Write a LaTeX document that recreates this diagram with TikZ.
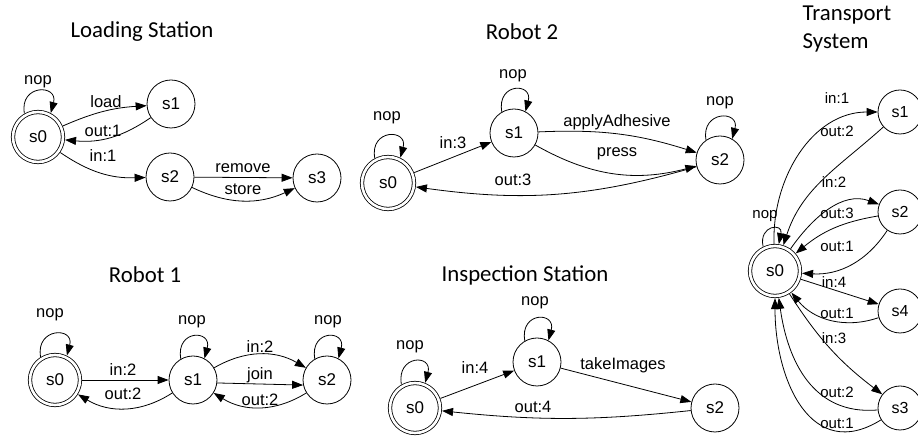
\documentclass[tikz,border=0pt]{standalone}
\usepackage{fontspec}
\setmainfont{Liberation Sans}
\newfontfamily\titlefont{Carlito}
\usetikzlibrary{arrows.meta}

\begin{document}
\begin{tikzpicture}[x=1pt,y=1pt,
  state/.style={circle,draw,line width=0.8pt,minimum size=48pt,inner sep=0pt,
    font=\fontsize{17}{19}\selectfont},
  small/.style={minimum size=44pt,font=\fontsize{16}{18}\selectfont},
  accept/.style={state,double,double distance=2.6pt,minimum size=50pt,outer sep=2.2pt},
  edge/.style={draw,line width=0.8pt,-{Triangle[length=11pt,width=8pt]}},
  selfloop/.style={edge,out=100,in=75,distance=30},
  lbl/.style={inner sep=0pt,font=\fontsize{16.5}{18}\selectfont},
  tlbl/.style={inner sep=0pt,font=\fontsize{15}{17}\selectfont},
  heading/.style={inner sep=0pt,font=\titlefont\fontsize{22.8}{28}\selectfont}]

\useasboundingbox (0,0) rectangle (918,441);
\fill[white] (0,0) rectangle (918,441);

% ---------- Loading Station ----------
\node[heading] (t-load) at (142,409) {Loading Station};
\node[accept] (L0) at (38,304) {s0};
\node[state]  (L1) at (171,337) {s1};
\node[state]  (L2) at (170,264) {s2};
\node[state]  (L3) at (317,263) {s3};
\draw[selfloop] (L0.120) to (L0.62);
\draw[edge] (L0) to[bend left=10] (L1);
\draw[edge] (L1) to[bend left=20] (L0);
\draw[edge] (L0) to[bend right=18] (L2);
\draw[edge] (L2) -- (L3);
\draw[edge] (L2) to[bend right=25] (L3);
\node[lbl] (lL-nop)  at (38,359)  {nop};
\node[lbl] (lL-load) at (106,339) {load};
\node[lbl] (lL-out)  at (103,310) {out:1};
\node[lbl] (lL-in)   at (103,285) {in:1};
\node[lbl] (lL-rem)  at (243,273) {remove};
\node[lbl] (lL-sto)  at (243,252) {store};

% ---------- Robot 2 ----------
\node[heading] (t-r2) at (522,409) {Robot 2};
\node[accept,minimum size=52pt] (R0) at (388,258) {s0};
\node[state]  (R1) at (514,308) {s1};
\node[state]  (R2) at (720,281) {s2};
\draw[selfloop] (R0.118) to (R0.64);
\draw[selfloop] (R1.120) to (R1.62);
\draw[selfloop] (R2.125) to (R2.60);
\draw[edge] (R0) -- (R1);
\draw[edge] (R1) to[bend left=10] (R2);
\draw[edge] (R1) to[bend right=22] (R2);
\draw[edge] (R2) to[bend left=12] (R0);
\node[lbl] (lR-nop0) at (387,323) {nop};
\node[lbl] (lR-nop1) at (513,365) {nop};
\node[lbl] (lR-nop2) at (720,338) {nop};
\node[lbl] (lR-in)   at (453,298) {in:3};
\node[lbl] (lR-app)  at (617,319) {applyAdhesive};
\node[lbl] (lR-pre)  at (617,287) {press};
\node[lbl] (lR-out)  at (513,261) {out:3};

% ---------- Robot 1 ----------
\node[heading] (t-r1) at (145,166) {Robot 1};
\node[accept] (B0) at (55,61) {s0};
\node[state]  (B1) at (193,61) {s1};
\node[state]  (B2) at (327,61) {s2};
\draw[selfloop] (B0.122) to (B0.64);
\draw[selfloop] (B1.120) to (B1.62);
\draw[selfloop] (B2.120) to (B2.62);
\draw[edge] (B0) -- (B1);
\draw[edge] (B1) to[bend left=32] (B0);
\draw[edge] (B1) to[bend left=30] (B2);
\draw[edge] (B1.-7) -- (B2.-168);
\draw[edge] (B2) to[bend left=32] (B1);
\node[lbl] (lB-nop0) at (50,126)  {nop};
\node[lbl] (lB-nop1) at (192,119) {nop};
\node[lbl] (lB-nop2) at (328,119) {nop};
\node[lbl] (lB-in)   at (123,71)  {in:2};
\node[lbl] (lB-out)  at (123,47)  {out:2};
\node[lbl] (lB-in2)  at (260,94)  {in:2};
\node[lbl] (lB-join) at (260,66)  {join};
\node[lbl] (lB-out2) at (260,41)  {out:2};

% ---------- Inspection Station ----------
\node[heading] (t-insp) at (525,166) {Inspection Station};
\node[accept] (I0) at (415,33) {s0};
\node[state]  (I1) at (537,79) {s1};
\node[state]  (I2) at (715,33) {s2};
\draw[selfloop] (I0.120) to (I0.68);
\draw[selfloop] (I1.120) to (I1.62);
\draw[edge] (I0) -- (I1);
\draw[edge] (I1) -- (I2);
\draw[edge] (I2) to[bend left=6] (I0);
\node[lbl] (lI-nop0) at (410,94)  {nop};
\node[lbl] (lI-nop1) at (535,138) {nop};
\node[lbl] (lI-in)   at (475,73)  {in:4};
\node[lbl] (lI-take) at (623,76)  {takeImages};
\node[lbl] (lI-out)  at (533,34)  {out:4};

% ---------- Transport System ----------
\node[heading,align=left] (t-trans) at (847,412) {Transport\\System};
\node[accept]      (T0) at (775,170) {s0};
\node[state,small] (T1) at (900,329) {s1};
\node[state,small] (T2) at (900,229) {s2};
\node[state,small] (T4) at (900,130) {s4};
\node[state,small] (T3) at (900,33)  {s3};
\draw[edge] (T0.116) to[out=102,in=78,distance=22] (T0.82);
\draw[edge] (T0) to[out=92,in=180] (T1);
\draw[edge] (T1) to[out=222,in=72] (T0);
\draw[edge] (T0) to[out=55,in=160] (T2);
\draw[edge] (T2) to[bend right=15] (T0);
\draw[edge] (T2) to[bend left=30] (T0);
\draw[edge] (T0) -- (T4);
\draw[edge] (T4) to[bend left=35] (T0);
\draw[edge] (T0) to[bend right=10] (T3);
\draw[edge] (T3) to[out=185,in=278,looseness=1.1] (T0);
\draw[edge] (T3) to[out=212,in=270,looseness=1.3] (T0);
\node[tlbl] (lT-nop)  at (765,225) {nop};
\node[tlbl] (lT-in1)  at (837,343) {in:1};
\node[tlbl] (lT-o2a)  at (837,310) {out:2};
\node[tlbl] (lT-in2)  at (834,259) {in:2};
\node[tlbl] (lT-o3)   at (837,228) {out:3};
\node[tlbl] (lT-o1a)  at (837,195) {out:1};
\node[tlbl] (lT-in4)  at (834,159) {in:4};
\node[tlbl] (lT-o1b)  at (837,128) {out:1};
\node[tlbl] (lT-in3)  at (834,103) {in:3};
\node[tlbl] (lT-o2b)  at (837,49)  {out:2};
\node[tlbl] (lT-o1c)  at (837,18)  {out:1};
\end{tikzpicture}
\end{document}
